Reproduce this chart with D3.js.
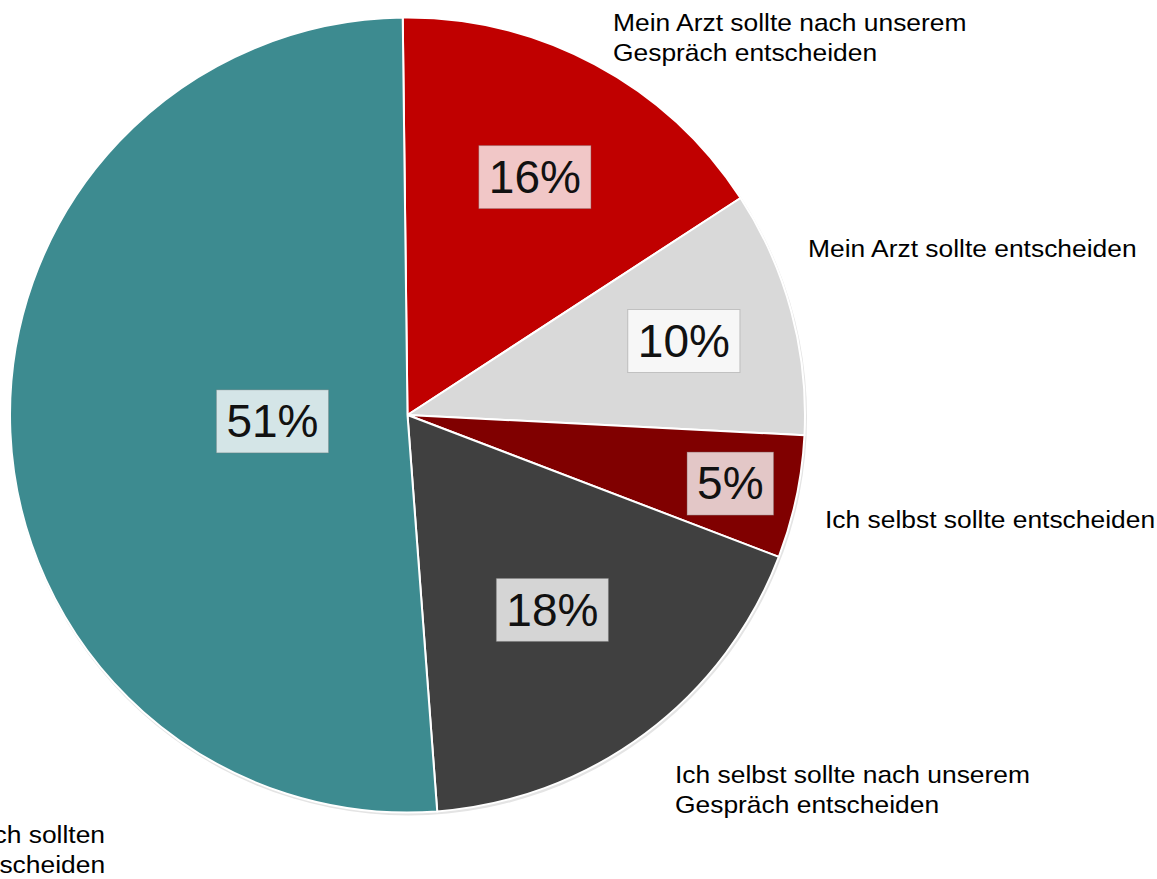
<!DOCTYPE html>
<html>
<head>
<meta charset="utf-8">
<script src="https://cdn.jsdelivr.net/npm/d3@7"></script>
<style>
  html, body { margin: 0; padding: 0; background: #fff; overflow: hidden; }
  svg { display: block; font-family: "Liberation Sans", Arial, sans-serif; }
</style>
</head>
<body>
<svg id="chart" width="1157" height="879"></svg>
<script>
// --- Data ---
const categories = [
    "Mein Arzt sollte nach unserem Gespräch entscheiden",
    "Mein Arzt sollte entscheiden",
    "Ich selbst sollte entscheiden",
    "Ich selbst sollte nach unserem Gespräch entscheiden",
    "Mein Arzt und ich sollten gemeinsam entscheiden"
];
const values = [16, 10, 5, 18, 51];
const labelLines = [
    ["Mein Arzt sollte nach unserem", "Gespräch entscheiden"],
    ["Mein Arzt sollte entscheiden"],
    ["Ich selbst sollte entscheiden"],
    ["Ich selbst sollte nach unserem", "Gespräch entscheiden"],
    ["Mein Arzt und ich sollten", "gemeinsam entscheiden"]
];
const colors = ["#c00000", "#d9d9d9", "#800000", "#404040", "#3d8b90"];

// --- Layout ---
const cx = 407.5, cy = 415, radius = 397.5;
// percent label distance from centre, as fraction of the radius
const pctRadius = [0.68, 0.72, 0.83, 0.61, 0.34];
// category label anchors (left x, first baseline)
const catPos = [[613, 31], [808, 257], [825, 528], [675, 783], [-181, 843]];

const svg = d3.select("#chart");
const g = svg.append("g").attr("transform", `translate(${cx},${cy})`);

const pie = d3.pie().sort(null).startAngle(-0.012).endAngle(2 * Math.PI - 0.012);
const arcs = pie(values);
const arc = d3.arc().innerRadius(0).outerRadius(radius);

// soft shadow rim
g.append("circle")
    .attr("cx", 1).attr("cy", 2)
    .attr("r", radius + 1)
    .attr("fill", "#e4e4e4");

g.selectAll("path.slice")
    .data(arcs)
    .join("path")
    .attr("class", "slice")
    .attr("d", arc)
    .attr("fill", (d, i) => colors[i])
    .attr("stroke", "#fff")
    .attr("stroke-width", 2)
    .attr("stroke-linejoin", "round");

// --- Percent labels with translucent boxes ---
const pctG = g.selectAll("g.pct")
    .data(arcs)
    .join("g")
    .attr("class", "pct")
    .attr("transform", (d, i) => {
        const a = (d.startAngle + d.endAngle) / 2;
        const r = radius * pctRadius[i];
        return `translate(${Math.sin(a) * r},${-Math.cos(a) * r})`;
    });

pctG.each(function(d) {
    const sel = d3.select(this);
    const txt = sel.append("text")
        .attr("text-anchor", "middle")
        .attr("dy", "0.35em")
        .attr("font-size", 46)
        .attr("fill", "#111")
        .text(d.data + "%");
    const bb = txt.node().getBBox();
    sel.insert("rect", "text")
        .attr("x", bb.x - 10)
        .attr("y", -31)
        .attr("width", bb.width + 20)
        .attr("height", 63)
        .attr("fill", "rgba(255,255,255,0.78)")
        .attr("stroke", "rgba(120,120,120,0.35)")
        .attr("stroke-width", 1);
});

// --- Category labels ---
const catG = svg.selectAll("g.cat")
    .data(categories)
    .join("g")
    .attr("class", "cat")
    .attr("transform", (d, i) => `translate(${catPos[i][0]},${catPos[i][1]}) scale(1.1,1)`);

catG.each(function(d, i) {
    const t = d3.select(this).append("text")
        .attr("font-size", 24)
        .attr("fill", "#000");
    labelLines[i].forEach((line, j) => {
        t.append("tspan").attr("x", 0).attr("y", j * 30).text(line);
    });
});
</script>
</body>
</html>
